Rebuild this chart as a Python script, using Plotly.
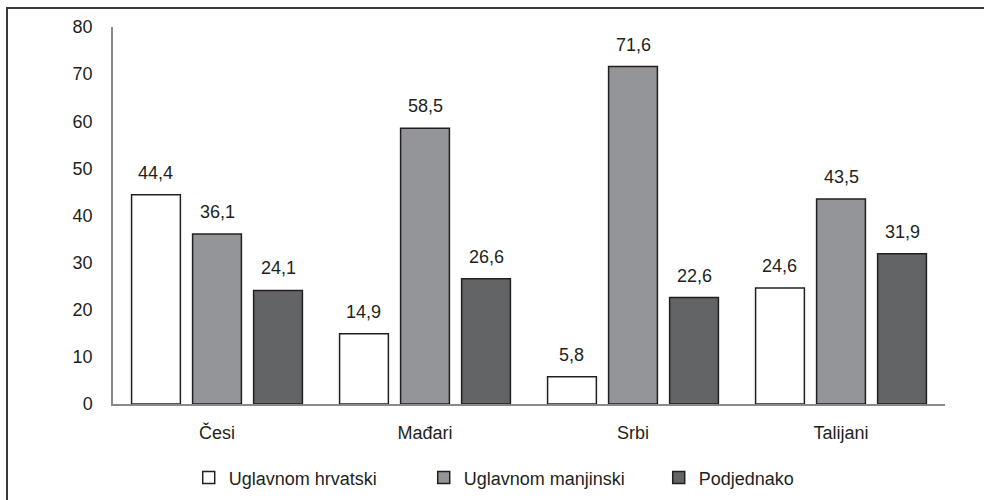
import plotly.graph_objects as go

categories = ["Česi", "Mađari", "Srbi", "Talijani"]
series_names = ["Uglavnom hrvatski", "Uglavnom manjinski", "Podjednako"]
uglavnom_hrvatski = [44.4, 14.9, 5.8, 24.6]
uglavnom_manjinski = [36.1, 58.5, 71.6, 43.5]
podjednako = [24.1, 26.6, 22.6, 31.9]
y_ticks = [0, 10, 20, 30, 40, 50, 60, 70, 80]

colors = ["#ffffff", "#939598", "#636466"]
values = [uglavnom_hrvatski, uglavnom_manjinski, podjednako]

FONT = "Liberation Sans, Arial, sans-serif"
TXT = "#231f20"
FS = 18

W, H = 984, 500
ML, MR, MT, MB = 113, 39, 27, 96
BARGAP = 0.12
plot_w = W - ML - MR
slot = plot_w / len(categories) * (1 - BARGAP) / len(series_names)

fig = go.Figure()
annotations = []
for i, (name, vals, col) in enumerate(zip(series_names, values, colors)):
    fig.add_trace(go.Bar(
        x=categories, y=vals, name=name,
        marker=dict(color=col, line=dict(color="#231f20", width=1.5)),
    ))
    for c, v in zip(categories, vals):
        annotations.append(dict(
            x=c, y=v, xref="x", yref="y", text=f"{v:.1f}".replace(".", ","),
            showarrow=False, xanchor="center", yanchor="bottom",
            xshift=(i - 1) * slot, yshift=10,
            font=dict(family=FONT, size=FS, color=TXT),
        ))

fig.update_layout(
    width=W, height=H,
    margin=dict(l=ML, r=MR, t=MT, b=MB, autoexpand=False),
    paper_bgcolor="white", plot_bgcolor="white",
    barmode="group", bargap=BARGAP, bargroupgap=0.2,
    font=dict(family=FONT, size=FS, color=TXT),
    showlegend=True,
    legend=dict(orientation="h", x=0.091, xanchor="left", y=-0.196, yanchor="middle",
                font=dict(family=FONT, size=FS, color=TXT),
                itemwidth=30, entrywidth=190, entrywidthmode="pixels"),
    xaxis=dict(showline=True, linecolor="#8a8a8a", linewidth=1.5, ticks="",
               tickfont=dict(family=FONT, size=FS, color=TXT), showgrid=False,
               ticklabelstandoff=12, automargin=False),
    yaxis=dict(range=[0, 80], tickvals=y_ticks, showline=True, linecolor="#8a8a8a",
               linewidth=1.5, ticks="", showgrid=False, zeroline=False,
               tickfont=dict(family=FONT, size=FS, color=TXT), ticklabelstandoff=15,
               automargin=False),
    annotations=annotations,
    shapes=[dict(type="rect", xref="paper", yref="paper",
                 x0=-0.1274, x1=1.2, y0=-0.4, y1=1.0504,
                 line=dict(color="#3a3a3a", width=2), layer="below")],
)

fig.write_html("out.html", config={"displayModeBar": False},
               post_script="document.body.style.margin='0';")
